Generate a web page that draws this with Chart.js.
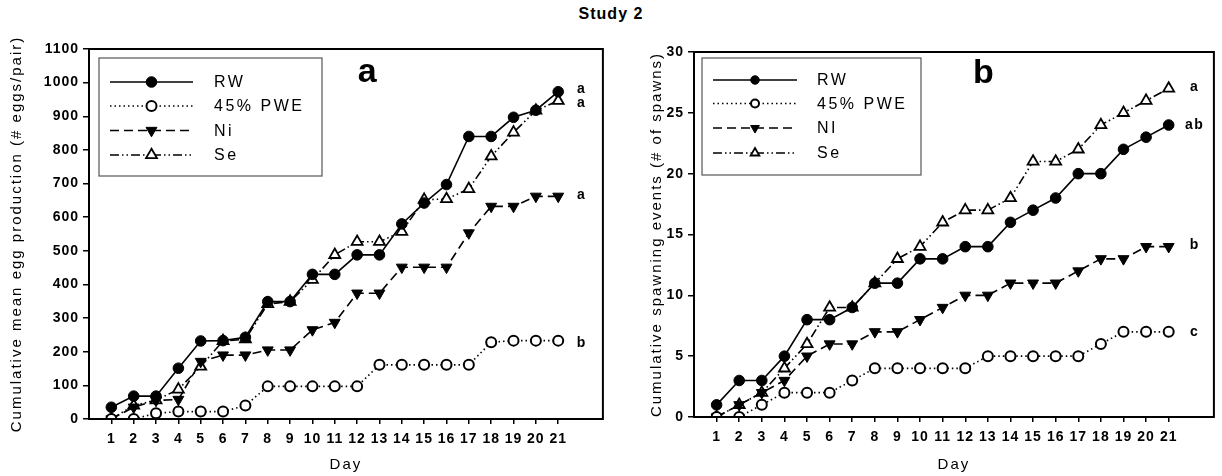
<!DOCTYPE html>
<html><head><meta charset="utf-8">
<script src="https://cdn.jsdelivr.net/npm/chart.js@4.4.0/dist/chart.umd.min.js"></script>
<style>
html,body{margin:0;padding:0;background:#fff;}
body{width:1222px;height:476px;position:relative;overflow:hidden;font-family:"Liberation Sans",Arial,sans-serif;}
#title{position:absolute;left:0;top:5px;width:1222px;text-align:center;font-weight:bold;font-size:16px;letter-spacing:1px;color:#000;}
.panel{position:absolute;top:0;width:611px;height:476px;}
</style></head><body>
<div id="title">Study 2</div>
<div class="panel" style="left:0"><canvas id="c1" width="611" height="476"></canvas></div>
<div class="panel" style="left:611px"><canvas id="c2" width="611" height="476"></canvas></div>
<script>
// ---- data ----
const days = [1,2,3,4,5,6,7,8,9,10,11,12,13,14,15,16,17,18,19,20,21];
const namesA = ['RW','45% PWE','Ni','Se'];
const namesB = ['RW','45% PWE','NI','Se'];

const eggsRW  = [35,68,68,151,232,233,243,349,349,430,430,488,488,580,642,697,840,840,897,918,973];
const eggsPWE = [0,0,17,22,22,22,40,97,97,97,97,97,161,161,161,161,161,228,233,233,233];
const eggsNi  = [0,35,55,58,171,190,190,205,205,265,287,374,374,451,451,451,553,632,632,662,662];
const eggsSe  = [0,40,56,88,156,232,237,342,349,414,488,527,527,557,652,654,684,781,852,917,946];

const spawnRW  = [1,3,3,5,8,8,9,11,11,13,13,14,14,16,17,18,20,20,22,23,24];
const spawnPWE = [0,0,1,2,2,2,3,4,4,4,4,4,5,5,5,5,5,6,7,7,7];
const spawnNi  = [0,1,2,3,5,6,6,7,7,8,9,10,10,11,11,11,12,13,13,14,14];
const spawnSe  = [0,1,2,4,6,9,9,11,13,14,16,17,17,18,21,21,22,24,25,26,27];

const eggTicks   = [0,100,200,300,400,500,600,700,800,900,1000,1100];
const spawnTicks = [0,5,10,15,20,25,30];

const eggLetters   = ['a','a','a','b'];
const eggLetterY   = [982,940,667,226];
const spawnLetters = ['a','ab','b','c'];
const spawnLetterY = [27.1,24.0,14.1,7.0];

const titleA = 'Cumulative mean egg production (# eggs/pair)';
const titleB = 'Cumulative spawning events (# of spawns)';
const xTitle = 'Day';

// ---- styles ----
const FONT = '"Liberation Sans", Arial, sans-serif';
const styles = [
  {borderDash:[], pointStyle:'circle', pointRotation:0, pointRadius:5.3, bg:'#000', bw:1},
  {borderDash:[1.5,3], pointStyle:'circle', pointRotation:0, pointRadius:5, bg:'#fff', bw:2},
  {borderDash:[9,5], pointStyle:'triangle', pointRotation:180, pointRadius:6.3, bg:'#000', bw:1},
  {borderDash:[9,3,1.5,3,1.5,3], pointStyle:'triangle', pointRotation:0, pointRadius:6.3, bg:'#fff', bw:1.8}
];

function makeDatasets(names, arrays){
  return arrays.map((arr,i)=>({
    label:names[i],
    data: days.map((d,j)=>({x:d, y:arr[j]})),
    borderColor:'#000', borderWidth:1.6, borderDash:styles[i].borderDash,
    pointStyle:styles[i].pointStyle, pointRotation:styles[i].pointRotation,
    pointRadius:styles[i].pointRadius, pointBackgroundColor:styles[i].bg,
    pointBorderColor:'#000', pointBorderWidth:styles[i].bw,
    fill:false, tension:0
  }));
}

const decorPlugin = {
  id:'decor',
  beforeDraw(chart){ chart.ctx.letterSpacing = '1px'; },
  afterDraw(chart, args, o){
    const ctx = chart.ctx, ca = chart.chartArea;
    const xs = chart.scales.x, ys = chart.scales.y;
    ctx.save();
    // frame
    ctx.setLineDash([]);
    ctx.strokeStyle = '#000'; ctx.lineWidth = 2;
    ctx.strokeRect(ca.left, ca.top, ca.right-ca.left, ca.bottom-ca.top);
    // legend
    const L = o.legend;
    const bx = ca.left + L.dx, by = ca.top + L.dy;
    ctx.strokeStyle = '#555'; ctx.lineWidth = 1.2;
    ctx.strokeRect(bx, by, L.w, L.h);
    chart.data.datasets.forEach((ds,i)=>{
      const y = by + L.rows[i];
      ctx.strokeStyle = '#000'; ctx.lineWidth = 1.5;
      ctx.setLineDash(ds.borderDash);
      ctx.beginPath(); ctx.moveTo(bx+L.lx0, y); ctx.lineTo(bx+L.lx1, y); ctx.stroke();
      ctx.setLineDash([]);
      ctx.fillStyle = ds.pointBackgroundColor; ctx.strokeStyle='#000'; ctx.lineWidth = ds.pointBorderWidth;
      Chart.helpers.drawPoint(ctx, {pointStyle:ds.pointStyle, rotation:ds.pointRotation, radius:ds.pointRadius*L.ms, borderWidth:ds.pointBorderWidth}, bx+(L.lx0+L.lx1)/2, y);
      ctx.fillStyle = '#000';
      ctx.letterSpacing = '2.5px';
      ctx.font = '16px ' + FONT; ctx.textAlign='left'; ctx.textBaseline='middle';
      ctx.fillText(ds.label, bx+L.tx, y+1);
    });
    // panel letter
    ctx.letterSpacing = '0px';
    ctx.font = 'bold 34px ' + FONT; ctx.textAlign='center'; ctx.textBaseline='alphabetic'; ctx.fillStyle='#000';
    ctx.fillText(o.panel.text, xs.getPixelForValue(o.panel.x), ys.getPixelForValue(o.panel.y));
    // significance letters
    ctx.letterSpacing = '1.5px';
    ctx.font = 'bold 14px ' + FONT; ctx.textBaseline='middle';
    o.letters.forEach((t,i)=>{
      ctx.fillText(t, xs.getPixelForValue(o.letterX), ys.getPixelForValue(o.letterY[i]));
    });
    // axis titles
    ctx.letterSpacing = '2px';
    ctx.font = '15px ' + FONT; ctx.textAlign='center'; ctx.textBaseline='middle';
    ctx.fillText(o.xTitle, (ca.left+ca.right)/2, o.xTitleY);
    ctx.save();
    ctx.translate(o.yTitleX, (ca.top+ca.bottom)/2);
    ctx.rotate(-Math.PI/2);
    ctx.fillText(o.yTitle, 0, 0);
    ctx.restore();
    ctx.restore();
    ctx.letterSpacing = '0px';
  }
};

function makeChart(id, names, arrays, yTicks, yMax, cfg){
  return new Chart(document.getElementById(id), {
    type:'line',
    data:{datasets:makeDatasets(names, arrays)},
    options:{
      responsive:false, animation:false, devicePixelRatio:1,
      layout:{padding:{top:cfg.top, right:cfg.right, left:0, bottom:0}},
      plugins:{legend:{display:false}, tooltip:{enabled:false},
        decor:cfg.decor},
      scales:{
        x:{type:'linear', min:0, max:23,
           afterBuildTicks(s){ s.ticks = days.map(v=>({value:v})); },
           afterFit(s){ s.height = cfg.xh; },
           grid:{display:true, drawOnChartArea:false, drawTicks:true, tickLength:5, color:'#000', lineWidth:1.5},
           border:{display:false},
           ticks:{color:'#000', font:{family:FONT, size:14, weight:'bold'}, padding:7, maxRotation:0, autoSkip:false,
                  callback:v=>String(v)}
        },
        y:{type:'linear', min:0, max:yMax,
           afterBuildTicks(s){ s.ticks = yTicks.map(v=>({value:v})); },
           afterFit(s){ s.width = cfg.yw; },
           grid:{display:true, drawOnChartArea:false, drawTicks:true, tickLength:6, color:'#000', lineWidth:1.5},
           border:{display:false},
           ticks:{color:'#000', font:{family:FONT, size:14, weight:'bold'}, padding:4, autoSkip:false,
                  callback:v=>String(v)}
        }
      }
    },
    plugins:[decorPlugin]
  });
}

makeChart('c1', namesA, [eggsRW, eggsPWE, eggsNi, eggsSe], eggTicks, 1100, {
  top:49, right:6, yw:89, xh:57,
  decor:{
    legend:{dx:10, dy:9, w:223, h:118, rows:[24,48,72.5,97], lx0:11, lx1:94, tx:115, ms:1.0},
    panel:{text:'a', x:12.45, y:1001},
    letters:eggLetters, letterY:eggLetterY, letterX:22.05,
    xTitle:xTitle, xTitleY:465, yTitle:titleA, yTitleX:17
  }
});
makeChart('c2', namesB, [spawnRW, spawnPWE, spawnNi, spawnSe], spawnTicks, 30, {
  top:52, right:4, yw:83, xh:59,
  decor:{
    legend:{dx:8, dy:6, w:219, h:117, rows:[22,45.5,70,95], lx0:11, lx1:95, tx:115, ms:0.8},
    panel:{text:'b', x:12.8, y:27.45},
    letters:spawnLetters, letterY:spawnLetterY, letterX:22.15,
    xTitle:xTitle, xTitleY:465, yTitle:titleB, yTitleX:46
  }
});
</script>
</body></html>
